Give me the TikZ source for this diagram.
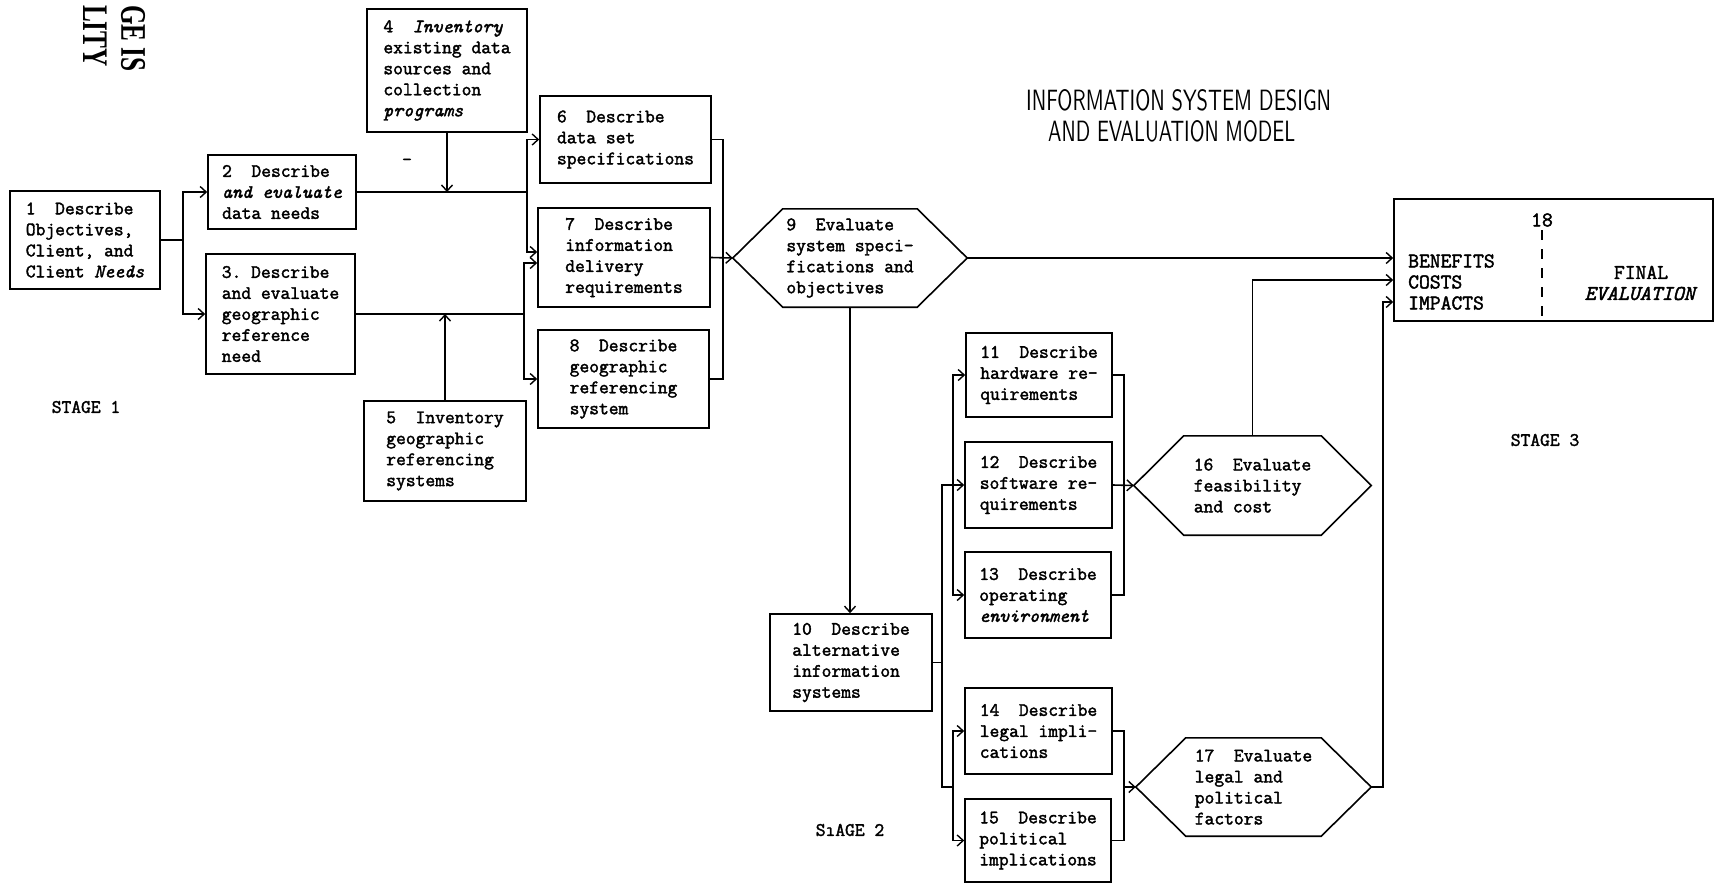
\documentclass[tikz,border=0pt]{standalone}
\usepackage{fontspec}
\usepackage{graphicx}
\setmonofont{Latin Modern Mono}[FakeBold=2]
\newfontfamily\stampfont{Liberation Serif}
\usetikzlibrary{arrows.meta}
\newcommand\twfont{\ttfamily\frenchspacing\fontsize{19}{21}\selectfont}
\newcommand\bigtwfont{\ttfamily\frenchspacing\fontsize{21}{21}\selectfont}
\newcommand\hexdraw[1]{\draw[conn] (#1.west) -- ([xshift=50pt]#1.north west) -- ([xshift=-50pt]#1.north east) -- (#1.east) -- ([xshift=-50pt]#1.south east) -- ([xshift=50pt]#1.south west) -- cycle;}
\tikzset{
  conn/.style={line width=1.6pt, line join=miter},
  arr/.style={conn, -{Straight Barb[length=6pt,width=11pt,line width=1.4pt]}},
  box/.style={draw, line width=1.6pt, align=left, inner sep=0pt, font=\twfont},
  hexn/.style={align=left, inner sep=0pt, font=\twfont},
  lab/.style={inner sep=0pt, font=\twfont},
  stamp/.style={rotate=-90, anchor=east, inner sep=0pt, font=\stampfont\bfseries\fontsize{36}{38}\selectfont},
}
\begin{document}
\begin{tikzpicture}[x=1pt,y=-1pt]
\fill[white] (0,0) rectangle (1725,884);
\useasboundingbox (0,0) rectangle (1725,884);

% stamp text (only its visible ends)
\node[stamp] (stampa) at (133,72) {\scalebox{0.7}[1]{GE IS}};
\node[stamp] (stampb) at (95,67) {\scalebox{0.7}[1]{LITY}};

% title
\node[anchor=base west, inner sep=0pt] (t1) at (1026,110) {\resizebox{305pt}{21pt}{\sffamily INFORMATION SYSTEM DESIGN}};
\node[anchor=base west, inner sep=0pt] (t2) at (1048,141) {\resizebox{247pt}{21pt}{\sffamily AND EVALUATION MODEL}};

% boxes
\node[box, minimum width=150pt, minimum height=98pt] (b1) at (85,240) {1~~Describe\\Objectives,\\Client, and\\Client \textit{Needs}};
\node[box, minimum width=148pt, minimum height=74pt] (b2) at (282,192) {2~~Describe\\\textit{and evaluate}\\data needs};
\node[box, minimum width=149pt, minimum height=120pt] (b3) at (280.5,314) {3. Describe\\and evaluate\\geographic\\reference\\need};
\node[box, minimum width=160pt, minimum height=123pt] (b4) at (447,70.5) {4~~\textit{Inventory}\\existing data\\sources and\\collection\\\textit{programs}};
\node[box, minimum width=162pt, minimum height=100pt] (b5) at (445,451) {5~~Inventory\\geographic\\referencing\\systems};
\node[box, minimum width=171pt, minimum height=87pt] (b6) at (625.5,139.5) {6~~Describe\\data set\\specifications};
\node[box, minimum width=172pt, minimum height=99pt] (b7) at (624,257.5) {7~~Describe\\information\\delivery\\requirements};
\node[box, minimum width=171pt, minimum height=98pt] (b8) at (623.5,379) {8~~Describe\\geographic\\referencing\\system};
\node[hexn, minimum width=234pt, minimum height=98pt] (h9) at (850,258) {9~~Evaluate\\system speci-\\fications and\\objectives};
\hexdraw{h9}
\node[box, minimum width=162pt, minimum height=97pt] (b10) at (851,662.5) {10~~Describe\\alternative\\information\\systems};
\node[box, minimum width=146pt, minimum height=84pt] (b11) at (1039,375) {11~~Describe\\hardware re-\\quirements};
\node[box, minimum width=147pt, minimum height=86pt] (b12) at (1038.5,485) {12~~Describe\\software re-\\quirements};
\node[box, minimum width=146pt, minimum height=86pt] (b13) at (1038,595) {13~~Describe\\operating\\\textit{environment}};
\node[box, minimum width=147pt, minimum height=86pt] (b14) at (1038.5,731) {14~~Describe\\legal impli-\\cations};
\node[box, minimum width=146pt, minimum height=83pt] (b15) at (1038,840.5) {15~~Describe\\political\\implications};
\node[hexn, minimum width=237pt, minimum height=99pt] (h16) at (1252.5,485.5) {16~~Evaluate\\feasibility\\and cost};
\hexdraw{h16}
\node[hexn, minimum width=235pt, minimum height=98pt] (h17) at (1253.5,787) {17~~Evaluate\\legal and\\political\\factors};
\hexdraw{h17}
\node[draw, line width=1.6pt, minimum width=319pt, minimum height=122pt, inner sep=0pt] (b18) at (1553.5,260) {};
\node[font=\bigtwfont] (n18) at (1542,220) {18};
\node[anchor=west, align=left, inner sep=0pt, font=\bigtwfont] (ben) at (1408,282) {BENEFITS\\COSTS\\IMPACTS};
\node[align=center, inner sep=0pt, font=\bigtwfont] (fin) at (1641,283) {FINAL\\\textit{EVALUATION}};
\draw[conn, dash pattern=on 10pt off 9pt] (n18.south) -- (n18.south |- b18.south);

% stage labels and marks
\node[lab] (s1) at (86,407) {STAGE 1};
\node[lab] (s2) at (850,830) {SıAGE 2};
\node[lab] (s3) at (1545,440) {STAGE 3};
\node[lab] (mk) at (407,162) {-};

% junctions
\coordinate (j1) at (183,240);
\coordinate (j2) at (527,192);
\coordinate (j3) at (524,314);
\coordinate (j4) at (723,258);
\coordinate (j5) at (942,662.5);
\coordinate (j6) at (953,787);
\coordinate (j7) at (953,485);
\coordinate (j8) at (1124,485);
\coordinate (j9) at (1124,787);

% stage 1
\draw[conn] (b1.east) -- (j1);
\draw[arr] (j1) |- (b2.west);
\draw[arr] (j1) |- (b3.west);
\draw[conn] (b2.east) -- (j2);
\draw[arr] (j2) |- (b6.west);
\draw[arr] (j2) |- ([yshift=5.5pt]b7.west);
\draw[arr] (b4.south) -- (b4.south |- b2.east);
\draw[conn] (b3.east) -- (j3);
\draw[arr] (j3) |- ([yshift=-5.5pt]b7.west);
\draw[arr] (j3) |- (b8.west);
\draw[arr] (b5.north) -- (b5.north |- b3.east);
\draw[conn] (b6.east) -| (j4) |- (b8.east);
\draw[arr] (b7.east) -- (h9.west);
\draw[arr] (h9.east) -- (h9.east -| b18.west);
\draw[arr] (h9.south) -- (h9.south |- b10.north);

% stage 2
\draw[conn] (b10.east) -- (j5);
\draw[arr] (j5) |- (b12.west);
\draw[conn] (j5) |- (j6);
\draw[arr] (j6) |- (b14.west);
\draw[arr] (j6) |- (b15.west);
\draw[arr] (j7) |- (b11.west);
\draw[arr] (j7) |- (b13.west);
\draw[conn] (b11.east) -| (j8) |- (b13.east);
\draw[arr] (b12.east) -- (h16.west);
\draw[conn] (b14.east) -| (j9) |- (b15.east);
\draw[arr] (j9) -- (h17.west);
\draw[arr] (h16.north) |- ([yshift=-20pt]b18.west);
\draw[arr] (h17.east) -- ++(12,0) |- ([yshift=-42pt]b18.west);
\end{tikzpicture}
\end{document}
